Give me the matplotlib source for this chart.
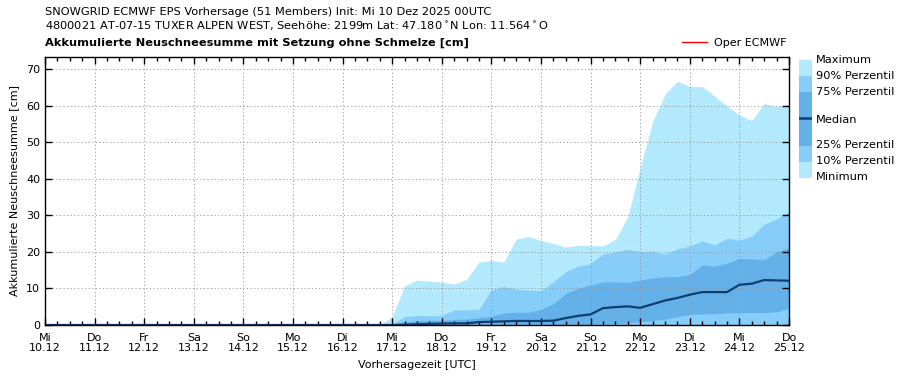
import pandas as pd
import matplotlib
matplotlib.use("Agg")
from matplotlib import pyplot as plt
from matplotlib.lines import Line2D
import matplotlib.dates as mdates

# 6-hourly steps, 10.12.2025 00UTC .. 25.12.2025 00UTC
times = pd.date_range("2025-12-10 00:00", "2025-12-25 00:00", freq="6h")

q_max = [0, 0, 0, 0, 0, 0, 0, 0, 0, 0, 0, 0, 0, 0, 0, 0, 0, 0, 0, 0, 0, 0, 0, 0, 0, 0, 0,
         0, 2.3, 10.7, 12.3, 12.0, 11.7, 11.2, 12.5, 17.2, 17.7, 17.2, 23.5, 24.2, 23.1, 22.3,
         21.3, 21.8, 21.8, 21.6, 23.4, 29.6, 43.0, 55.6, 63.1, 66.7, 65.2, 65.2, 62.6, 59.9,
         57.4, 55.9, 60.6, 59.7, 60.4]
q90 = [0, 0, 0, 0, 0, 0, 0, 0, 0, 0, 0, 0, 0, 0, 0, 0, 0, 0, 0, 0, 0, 0, 0, 0, 0, 0, 0,
       0, 0.3, 2.3, 2.6, 2.5, 2.6, 4.1, 4.1, 4.3, 9.6, 10.5, 9.8, 9.6, 9.4, 11.8,
       14.6, 16.1, 16.8, 19.4, 20.0, 20.7, 20.1, 20.2, 19.4, 20.8, 21.6, 23.0, 21.9, 23.7,
       23.2, 24.3, 27.6, 29.0, 31.0]
q75 = [0, 0, 0, 0, 0, 0, 0, 0, 0, 0, 0, 0, 0, 0, 0, 0, 0, 0, 0, 0, 0, 0, 0, 0, 0, 0, 0,
       0, 0.1, 0.8, 1.2, 1.3, 1.3, 1.5, 1.6, 2.0, 2.4, 3.3, 3.5, 3.5, 4.3, 5.8,
       8.6, 10.1, 10.9, 11.8, 11.8, 11.7, 12.3, 12.9, 13.2, 13.2, 13.8, 16.4, 16.1, 16.9,
       18.2, 18.1, 17.9, 20.0, 21.1]
median = [0, 0, 0, 0, 0, 0, 0, 0, 0, 0, 0, 0, 0, 0, 0, 0, 0, 0, 0, 0, 0, 0, 0, 0, 0, 0, 0,
          0, 0, 0.1, 0.2, 0.3, 0.4, 0.45, 0.45, 0.8, 0.9, 1.0, 1.1, 1.1, 1.1, 1.2,
          1.9, 2.5, 2.9, 4.6, 4.9, 5.1, 4.7, 5.7, 6.7, 7.4, 8.3, 9.0, 9.0, 9.0,
          11.0, 11.3, 12.3, 12.2, 12.1]
q25 = [0, 0, 0, 0, 0, 0, 0, 0, 0, 0, 0, 0, 0, 0, 0, 0, 0, 0, 0, 0, 0, 0, 0, 0, 0, 0, 0,
       0, 0, 0, 0, 0, 0, 0, 0, 0, 0, 0, 0, 0, 0, 0,
       0, 0.1, 0.2, 0.3, 0.4, 0.5, 0.9, 1.2, 1.6, 2.3, 2.9, 3.0, 3.1, 3.3,
       3.4, 3.4, 3.4, 3.6, 4.6]
q10 = [0] * 61
q_min = [0] * 61

day_names = ["Mi", "Do", "Fr", "Sa", "So", "Mo", "Di", "Mi", "Do", "Fr", "Sa", "So", "Mo", "Di", "Mi", "Do"]
day_dates = ["10.12", "11.12", "12.12", "13.12", "14.12", "15.12", "16.12", "17.12",
             "18.12", "19.12", "20.12", "21.12", "22.12", "23.12", "24.12", "25.12"]

c_outer = "#b3e9fd"
c_mid = "#86cdf9"
c_inner = "#64b1ea"
c_median = "#0f3e6c"

plt.rcParams["font.family"] = "DejaVu Sans"
plt.rcParams["font.size"] = 8

W, H = 903, 380
fig = plt.figure(figsize=(W / 100, H / 100), dpi=100)
ax = fig.add_axes([45 / W, (H - 325) / H, 744 / W, 268 / H])

ax.fill_between(times, q_min, q_max, color=c_outer, lw=0)
ax.fill_between(times, q10, q90, color=c_mid, lw=0)
ax.fill_between(times, q25, q75, color=c_inner, lw=0)
ax.plot(times, median, color=c_median, lw=1.6)

ax.set_xlim(times[0], times[-1])
ax.set_ylim(0, 73.3)
ax.set_yticks(range(0, 71, 10))

day_ticks = pd.date_range(times[0], times[-1], freq="1D")
ax.set_xticks(day_ticks)
ax.set_xticklabels([f"{n}\n{d}" for n, d in zip(day_names, day_dates)], linespacing=1.0)
ax.xaxis.set_minor_locator(mdates.HourLocator(byhour=[6, 12, 18]))
ax.tick_params(which="both", direction="in", top=True, right=True, labelsize=8)
ax.tick_params(which="major", length=5, width=1)
ax.tick_params(which="minor", length=3, width=1)
ax.tick_params(axis="x", pad=6)
ax.grid(True, which="major", color="#999999", ls=(0, (1.2, 2.5)), lw=0.7)
for s in ax.spines.values():
    s.set_linewidth(1)

ax.set_ylabel("Akkumulierte Neuschneesumme [cm]", fontsize=8, labelpad=5)
ax.set_xlabel("Vorhersagezeit [UTC]", fontsize=8, labelpad=5)

fig.text(45 / W, 1 - 12 / H, "SNOWGRID ECMWF EPS Vorhersage (51 Members) Init: Mi 10 Dez 2025 00UTC",
         va="center", fontsize=8.2)
fig.text(45 / W, 1 - 26 / H,
         "4800021 AT-07-15 TUXER ALPEN WEST, Seehöhe: 2199m Lat: 47.180$^\\circ$N Lon: 11.564$^\\circ$O",
         va="center", fontsize=8.2)
fig.text(45 / W, 1 - 43 / H, "Akkumulierte Neuschneesumme mit Setzung ohne Schmelze [cm]",
         va="center", fontsize=8.2, fontweight="bold")

# Oper ECMWF legend entry
fig.legend(handles=[Line2D([], [], color="red", lw=1)], labels=["Oper ECMWF"],
           loc="center left", bbox_to_anchor=(678 / W, 1 - 43 / H), frameon=False,
           fontsize=8, handlelength=2.2, handletextpad=0.6, borderaxespad=0)

# band legend on the right
lg = fig.add_axes([799 / W, (H - 178) / H, 13 / W, 118 / H])
lg.set_xlim(0, 1)
lg.set_ylim(178, 60)
lg.axis("off")
bands = [(60, 76, c_outer), (76, 92, c_mid), (92, 146, c_inner), (146, 162, c_mid), (162, 178, c_outer)]
for top, bottom, col in bands:
    lg.axhspan(top, bottom, color=col, lw=0)
lg.axhline(118, color=c_median, lw=1.8)
labels = [("Maximum", 60), ("90% Perzentil", 76), ("75% Perzentil", 92), ("Median", 120),
          ("25% Perzentil", 145), ("10% Perzentil", 161), ("Minimum", 177)]
for txt, ypos in labels:
    fig.text(816 / W, 1 - ypos / H, txt, va="center", fontsize=8.2)

fig.savefig("out.png", dpi=100)
